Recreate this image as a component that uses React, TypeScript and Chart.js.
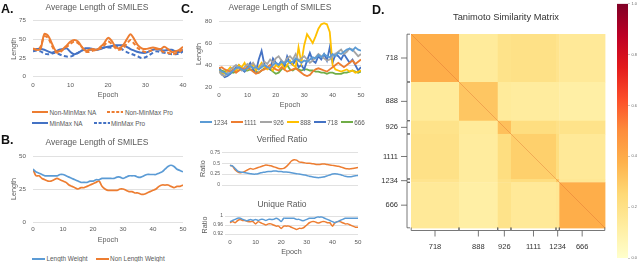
import React, { useEffect, useRef } from 'react';
import { Chart, registerables } from 'chart.js';

Chart.register(...registerables);

const FONT = "'Liberation Sans', Arial, Helvetica, sans-serif";
const TXT = '#595959';
const GRID = '#d9d9d9';

// ---------------- Panel A ----------------
const epochsA = Array.from({ length: 41 }, (_, i) => i);
const aNames = ['Non-MinMax NA', 'Non-MinMax Pro', 'MinMax NA', 'MinMax Pro'];
const aNonMinMaxNA = [38, 36, 37, 57, 55, 45, 35, 34, 37, 42, 47, 49, 47, 40, 35, 36, 37, 36, 40, 45, 52, 48, 40, 38, 42, 50, 57, 50, 42, 38, 37, 38, 39, 38, 37, 40, 37, 33, 34, 36, 40];
const aNonMinMaxPro = [37, 36, 40, 54, 52, 42, 33, 32, 36, 40, 44, 47, 45, 40, 34, 33, 35, 36, 38, 42, 47, 44, 38, 36, 38, 44, 49, 44, 38, 35, 33, 34, 36, 37, 35, 33, 32, 30, 31, 33, 37];
const aMinMaxNA = [36, 37, 37, 36, 34, 32, 34, 36, 37, 38, 33, 30, 32, 35, 38, 38, 37, 36, 37, 39, 40, 41, 42, 42, 42, 40, 37, 35, 33, 32, 32, 34, 36, 37, 36, 35, 36, 36, 34, 33, 36];
const aMinMaxPro = [34, 35, 34, 31, 30, 31, 32, 30, 28, 27, 27, 29, 32, 35, 36, 36, 36, 36, 38, 39, 39, 39, 40, 39, 36, 33, 31, 29, 27, 25, 26, 29, 32, 34, 33, 32, 31, 30, 30, 31, 34];
const aXTicks = [0, 10, 20, 30, 40];
const aYTicks = [0, 25, 50, 75];

// ---------------- Panel B ----------------
const epochs50 = Array.from({ length: 51 }, (_, i) => i);
const bNames = ['Length Weight', 'Non Length Weight'];
const bLengthWeight = [40, 38, 37, 36, 35, 35, 35, 35, 35, 36, 36, 35, 34, 33, 32, 31, 30, 30, 30, 31, 31, 32, 32, 33, 33, 33, 33, 33, 34, 34, 33, 34, 35, 35, 35, 34, 34, 35, 36, 36, 36, 36, 37, 38, 40, 42, 43, 42, 40, 39, 38];
const bNonLengthWeight = [40, 35, 35, 33, 32, 31, 31, 32, 33, 32, 31, 30, 28, 27, 26, 25, 26, 26, 27, 28, 29, 30, 31, 27, 25, 24, 24, 24, 24, 25, 25, 24, 23, 23, 22, 22, 21, 21, 22, 23, 24, 25, 27, 28, 28, 28, 27, 26, 27, 27, 28];
const x50Ticks = [0, 10, 20, 30, 40, 50];
const bYTicks = [0, 25, 50];

// ---------------- Panel C ----------------
const cNames = ['1234', '1111', '926', '888', '718', '666'];
const c1234 = [36, 34, 33, 31, 33, 35, 37, 38, 36, 35, 37, 39, 37, 38, 36, 38, 40, 38, 37, 40, 42, 40, 43, 41, 44, 42, 43, 46, 44, 42, 44, 43, 45, 47, 46, 49, 47, 50, 48, 47, 50, 48, 51, 50, 52, 54, 55, 53, 56, 54, 53];
const c1111 = [37, 38, 36, 35, 34, 36, 33, 35, 37, 36, 38, 36, 34, 32, 33, 35, 36, 38, 40, 38, 36, 35, 38, 36, 34, 35, 36, 37, 35, 33, 31, 30, 31, 34, 36, 37, 36, 35, 34, 36, 38, 40, 42, 40, 38, 40, 42, 44, 41, 43, 45];
const c926 = [34, 31, 30, 33, 36, 38, 40, 37, 35, 38, 41, 39, 42, 38, 36, 40, 43, 41, 45, 42, 46, 48, 44, 42, 46, 48, 45, 50, 44, 46, 48, 45, 42, 44, 47, 50, 48, 46, 44, 45, 48, 50, 52, 54, 50, 52, 55, 54, 51, 48, 50];
const c888 = [35, 33, 32, 35, 38, 36, 34, 40, 38, 42, 36, 38, 41, 35, 38, 42, 38, 36, 38, 35, 40, 38, 42, 36, 40, 44, 40, 38, 56, 42, 58, 68, 64, 60, 66, 73, 77, 78, 77, 70, 40, 36, 35, 34, 35, 36, 34, 35, 33, 34, 35];
const c718 = [38, 32, 29, 30, 32, 35, 38, 40, 36, 34, 38, 42, 36, 34, 45, 53, 40, 38, 36, 46, 42, 40, 44, 38, 48, 42, 40, 45, 38, 40, 36, 44, 51, 44, 42, 48, 45, 50, 44, 56, 42, 50, 48, 45, 50, 46, 42, 45, 40, 35, 38];
const c666 = [36, 35, 34, 35, 34, 33, 34, 35, 37, 35, 35, 36, 35, 34, 33, 35, 37, 38, 36, 34, 32, 33, 36, 38, 40, 36, 35, 37, 36, 35, 36, 36, 35, 35, 34, 34, 33, 33, 32, 33, 33, 32, 32, 32, 33, 33, 34, 35, 34, 33, 34];
const cColors = ['#5B9BD5', '#ED7D31', '#A5A5A5', '#FFC000', '#4472C4', '#70AD47'];
const cYTicks = [20, 40, 60, 80];

const verifiedLW = [0.45, 0.44, 0.38, 0.32, 0.30, 0.29, 0.28, 0.27, 0.26, 0.25, 0.25, 0.26, 0.28, 0.29, 0.30, 0.31, 0.31, 0.32, 0.32, 0.31, 0.31, 0.30, 0.30, 0.29, 0.28, 0.27, 0.26, 0.25, 0.24, 0.23, 0.22, 0.20, 0.19, 0.18, 0.17, 0.17, 0.18, 0.19, 0.21, 0.23, 0.25, 0.26, 0.25, 0.24, 0.22, 0.20, 0.19, 0.19, 0.20, 0.21, 0.22];
const verifiedNLW = [0.45, 0.43, 0.35, 0.30, 0.28, 0.29, 0.32, 0.35, 0.38, 0.36, 0.38, 0.40, 0.42, 0.44, 0.46, 0.45, 0.44, 0.42, 0.40, 0.38, 0.37, 0.38, 0.42, 0.48, 0.55, 0.58, 0.57, 0.53, 0.52, 0.51, 0.50, 0.50, 0.49, 0.48, 0.47, 0.47, 0.48, 0.48, 0.47, 0.46, 0.45, 0.44, 0.43, 0.42, 0.40, 0.38, 0.37, 0.37, 0.38, 0.39, 0.40];
const verifiedYTicks = [0, 0.25, 0.5, 0.75];
const uniqueLW = [0.975, 0.98, 0.985, 0.99, 0.99, 0.985, 0.98, 0.98, 0.985, 0.98, 0.985, 0.98, 0.985, 0.985, 0.98, 0.985, 0.985, 0.985, 0.99, 0.985, 0.975, 0.99, 0.99, 0.99, 0.99, 0.99, 0.985, 0.985, 0.98, 0.98, 0.985, 0.99, 0.99, 0.99, 0.995, 0.995, 0.995, 0.99, 0.985, 0.98, 0.975, 0.97, 0.975, 0.98, 0.985, 0.99, 0.99, 0.99, 0.99, 0.99, 0.99];
const uniqueNLW = [0.97, 0.975, 0.97, 0.98, 0.985, 0.98, 0.98, 0.975, 0.975, 0.975, 0.965, 0.975, 0.97, 0.965, 0.96, 0.965, 0.965, 0.96, 0.955, 0.955, 0.945, 0.955, 0.955, 0.955, 0.95, 0.945, 0.94, 0.945, 0.945, 0.95, 0.96, 0.97, 0.975, 0.975, 0.97, 0.97, 0.975, 0.975, 0.97, 0.97, 0.955, 0.97, 0.975, 0.975, 0.97, 0.965, 0.965, 0.96, 0.955, 0.95, 0.95];
const uniqueYTicks = [0.92, 0.96, 1];

// ---------------- Panel D ----------------
const dGroups = ['718', '888', '926', '1111', '1234', '666'];
const dGroupSizes = [145, 117, 40, 136, 10, 138];
const dSim = [
  [0.39, 0.14, 0.19, 0.2, 0.18, 0.15],
  [0.14, 0.31, 0.14, 0.13, 0.13, 0.11],
  [0.19, 0.14, 0.33, 0.22, 0.2, 0.19],
  [0.2, 0.13, 0.22, 0.28, 0.22, 0.15],
  [0.18, 0.13, 0.2, 0.22, 0.3, 0.16],
  [0.15, 0.11, 0.19, 0.15, 0.16, 0.39],
];
const cbTicks = [0, 0.2, 0.4, 0.6, 0.8, 1];
const YLORRD = ['#ffffcc', '#ffeda0', '#fed976', '#feb24c', '#fd8d3c', '#fc4e2a', '#e31a1c', '#bd0026', '#800026'];

// ---------------- helpers ----------------
const pts = (xs: number[], ys: number[]) => xs.map((x, i) => ({ x, y: ys[i] }));
const lineDs = (label: string, xs: number[], ys: number[], color: string, extra: any = {}) => ({
  label, data: pts(xs, ys), borderColor: color, backgroundColor: color,
  borderWidth: 1.5, pointRadius: 0, tension: 0.3, ...extra,
});

function hexRgb(h: string) {
  return [parseInt(h.slice(1, 3), 16), parseInt(h.slice(3, 5), 16), parseInt(h.slice(5, 7), 16)];
}
function cmap(v: number) {
  const n = YLORRD.length;
  const t = Math.max(0, Math.min(1, v)) * (n - 1);
  const i = Math.min(Math.floor(t), n - 2);
  const f = t - i;
  const a = hexRgb(YLORRD[i]);
  const b = hexRgb(YLORRD[i + 1]);
  const c = a.map((av, k) => Math.round(av + (b[k] - av) * f));
  return `rgb(${c[0]},${c[1]},${c[2]})`;
}

type LineOpts = {
  cx: number; cy: number; cw: number; ch: number;
  l: number; t: number; r: number; b: number;
  title?: string; titleY?: number; titleSize?: number;
  yTitle: string; yTitleX: number; yTickRight: number; yTickSize?: number;
  xTitle?: string; xTitleY?: number; xTickY?: number;
  xMin: number; xMax: number; xTicks: number[];
  yMin: number; yMax: number; yTicks: number[];
  datasets: any[];
};

function lineConfig(o: LineOpts): any {
  const TICK = 6.2;
  const AX = 7.2;
  const tSize = o.titleSize ?? 8.5;
  const tLh = tSize * 1.2;
  let padTop = 0;
  let title: any = { display: false };
  if (o.title) {
    const pt = (o.titleY as number) - o.cy - tLh / 2;
    const pb = o.t - o.cy - pt - tLh;
    title = {
      display: true, text: o.title, color: TXT,
      font: { family: FONT, size: tSize, weight: 'normal', lineHeight: 1.2 },
      padding: { top: pt, bottom: pb },
    };
  } else padTop = o.t - o.cy;
  const yTick = o.yTickSize ?? TICK;
  return {
    type: 'line',
    data: { datasets: o.datasets },
    options: {
      responsive: false, animation: false, events: [],
      layout: { padding: { left: 0, right: 0, top: padTop, bottom: 0 } },
      plugins: { legend: { display: false }, title, tooltip: { enabled: false } },
      scales: {
        x: {
          type: 'linear', min: o.xMin, max: o.xMax,
          afterBuildTicks: (s: any) => { s.ticks = o.xTicks.map((v) => ({ value: v })); },
          afterFit: (s: any) => { s.height = o.cy + o.ch - o.b; },
          ticks: o.xTickY != null
            ? { display: true, color: TXT, font: { family: FONT, size: TICK }, padding: o.xTickY - o.b - TICK * 0.6, maxRotation: 0, autoSkip: false }
            : { display: false },
          grid: { display: false, drawTicks: false },
          border: { display: false },
          title: o.xTitle
            ? { display: true, text: o.xTitle, color: TXT, font: { family: FONT, size: AX }, padding: { top: 0, bottom: o.cy + o.ch - (o.xTitleY as number) - AX * 0.6 } }
            : { display: false },
        },
        y: {
          type: 'linear', min: o.yMin, max: o.yMax,
          afterBuildTicks: (s: any) => { s.ticks = o.yTicks.map((v) => ({ value: v })); },
          afterFit: (s: any) => { s.width = o.l - o.cx; },
          ticks: {
            color: TXT, font: { family: FONT, size: yTick }, padding: o.l - o.yTickRight,
            callback: (v: any) => String(+Number(v).toFixed(3)),
          },
          grid: { color: GRID, lineWidth: 0.8, drawTicks: false },
          border: { display: false },
          title: {
            display: true, text: o.yTitle, color: TXT, font: { family: FONT, size: AX },
            padding: { top: o.yTitleX - o.cx - AX * 0.6, bottom: 0 },
          },
        },
        yR: {
          type: 'linear', position: 'right', display: true,
          ticks: { display: false }, grid: { display: false, drawTicks: false }, border: { display: false },
          afterFit: (s: any) => { s.width = o.cx + o.cw - o.r; },
        },
      },
    },
  };
}

// ---------------- chart configs ----------------
const configA = () => lineConfig({
  cx: 0, cy: 0, cw: 194, ch: 102, l: 33, t: 20.7, r: 183, b: 76.7,
  title: 'Average Length of SMILES', titleY: 8,
  yTitle: 'Length', yTitleX: 14.5, yTickRight: 26,
  xTitle: 'Epoch', xTitleY: 95, xTickY: 85.5,
  xMin: 0, xMax: 40, xTicks: aXTicks, yMin: 0, yMax: 75, yTicks: aYTicks,
  datasets: [
    lineDs(aNames[0], epochsA, aNonMinMaxNA, '#ED7D31', { borderWidth: 2 }),
    lineDs(aNames[1], epochsA, aNonMinMaxPro, '#ED7D31', { borderWidth: 2, borderDash: [4, 2.5] }),
    lineDs(aNames[2], epochsA, aMinMaxNA, '#4472C4', { borderWidth: 2 }),
    lineDs(aNames[3], epochsA, aMinMaxPro, '#4472C4', { borderWidth: 2, borderDash: [4, 2.5] }),
  ],
});

const configB = () => lineConfig({
  cx: 0, cy: 130, cw: 194, ch: 116, l: 33, t: 156, r: 183, b: 222,
  title: 'Average Length of SMILES', titleY: 143,
  yTitle: 'Length', yTitleX: 14.5, yTickRight: 26,
  xTitle: 'Epoch', xTitleY: 240, xTickY: 229.5,
  xMin: 0, xMax: 50, xTicks: x50Ticks, yMin: 0, yMax: 50, yTicks: bYTicks,
  datasets: [
    lineDs(bNames[0], epochs50, bLengthWeight, '#5B9BD5', { borderWidth: 1.7 }),
    lineDs(bNames[1], epochs50, bNonLengthWeight, '#ED7D31', { borderWidth: 1.7 }),
  ],
});

const cSeries = [c1234, c1111, c926, c888, c718, c666];
const configC = () => lineConfig({
  cx: 190, cy: 0, cw: 180, ch: 112, l: 219, t: 21, r: 361, b: 87,
  title: 'Average Length of SMILES', titleY: 8,
  yTitle: 'Length', yTitleX: 199, yTickRight: 212,
  xTitle: 'Epoch', xTitleY: 105, xTickY: 95,
  xMin: 0, xMax: 50, xTicks: x50Ticks, yMin: 20, yMax: 80, yTicks: cYTicks,
  datasets: cSeries.map((s, i) => lineDs(cNames[i], epochs50, s, cColors[i], { borderWidth: 1.8, tension: 0 })),
});

const configV = () => lineConfig({
  cx: 198, cy: 130, cw: 168, ch: 60, l: 222, t: 152.3, r: 358, b: 185.7,
  title: 'Verified Ratio', titleY: 140,
  yTitle: 'Ratio', yTitleX: 203, yTickRight: 220, yTickSize: 5,
  xMin: -3.1, xMax: 50, xTicks: x50Ticks, yMin: 0, yMax: 0.75, yTicks: verifiedYTicks,
  datasets: [
    lineDs(bNames[0], epochs50, verifiedLW, '#5B9BD5', { borderWidth: 1.5, tension: 0.2 }),
    lineDs(bNames[1], epochs50, verifiedNLW, '#ED7D31', { borderWidth: 1.5, tension: 0.2 }),
  ],
});

const configU = () => lineConfig({
  cx: 198, cy: 192, cw: 168, ch: 70, l: 225, t: 216, r: 358, b: 234,
  title: 'Unique Ratio', titleY: 205,
  yTitle: 'Ratio', yTitleX: 205, yTickRight: 223, yTickSize: 5,
  xTitle: 'Epoch', xTitleY: 252, xTickY: 242,
  xMin: -1.95, xMax: 50, xTicks: x50Ticks, yMin: 0.92, yMax: 1, yTicks: uniqueYTicks,
  datasets: [
    lineDs(bNames[0], epochs50, uniqueLW, '#5B9BD5', { borderWidth: 1.5, tension: 0.2 }),
    lineDs(bNames[1], epochs50, uniqueNLW, '#ED7D31', { borderWidth: 1.5, tension: 0.2 }),
  ],
});

const dTotal = dGroupSizes.reduce((a, b) => a + b, 0);
const dStarts = dGroupSizes.map((_, i) => dGroupSizes.slice(0, i).reduce((a, b) => a + b, 0));
const dCenters = dStarts.map((s, i) => s + dGroupSizes[i] / 2);

const heatPlugin = {
  id: 'heatcells',
  beforeDatasetsDraw(chart: any) {
    const { ctx } = chart;
    const xs = chart.scales.x;
    const ys = chart.scales.y;
    ctx.save();
    for (let i = 0; i < dGroups.length; i++) {
      for (let j = 0; j < dGroups.length; j++) {
        const x0 = xs.getPixelForValue(dStarts[j]);
        const x1 = xs.getPixelForValue(dStarts[j] + dGroupSizes[j]);
        const y0 = ys.getPixelForValue(dStarts[i]);
        const y1 = ys.getPixelForValue(dStarts[i] + dGroupSizes[i]);
        ctx.fillStyle = cmap(dSim[i][j]);
        ctx.fillRect(Math.min(x0, x1), Math.min(y0, y1), Math.abs(x1 - x0) + 0.4, Math.abs(y1 - y0) + 0.4);
      }
    }
    ctx.restore();
  },
  afterDraw(chart: any) {
    const { ctx, chartArea } = chart;
    const xs = chart.scales.x;
    const ys = chart.scales.y;
    ctx.save();
    ctx.strokeStyle = '#555';
    ctx.lineWidth = 0.8;
    ctx.beginPath();
    const bx = chartArea.left - 4;
    const by = chartArea.bottom + 2.5;
    for (let i = 0; i < dGroups.length; i++) {
      const a = dStarts[i] + 0.6;
      const b = dStarts[i] + dGroupSizes[i] - 0.6;
      const c = dCenters[i];
      const ya = ys.getPixelForValue(a);
      const yb = ys.getPixelForValue(b);
      const yc = ys.getPixelForValue(c);
      ctx.moveTo(bx + 3, ya); ctx.lineTo(bx, ya); ctx.lineTo(bx, yb); ctx.lineTo(bx + 3, yb);
      ctx.moveTo(bx - 6, yc); ctx.lineTo(bx, yc);
      const xa = xs.getPixelForValue(a);
      const xb = xs.getPixelForValue(b);
      const xc = xs.getPixelForValue(c);
      ctx.moveTo(xa, by - 3); ctx.lineTo(xa, by); ctx.lineTo(xb, by); ctx.lineTo(xb, by - 3);
      ctx.moveTo(xc, by); ctx.lineTo(xc, by + 6);
    }
    ctx.stroke();
    ctx.restore();
  },
};

const configD = () => ({
  type: 'scatter',
  data: {
    datasets: [{
      label: 'diagonal', data: [{ x: 0, y: 0 }, { x: dTotal, y: dTotal }], showLine: true,
      borderColor: 'rgba(214,96,40,0.55)', borderWidth: 0.6, pointRadius: 0,
    }],
  },
  options: {
    responsive: false, animation: false, events: [],
    layout: { padding: 0 },
    plugins: {
      legend: { display: false }, tooltip: { enabled: false },
      title: {
        display: true, text: 'Tanimoto Similarity Matrix', color: '#333',
        font: { family: FONT, size: 9.3, weight: 'normal', lineHeight: 1.2 },
        padding: { top: 11.4, bottom: 11.44 },
      },
    },
    scales: {
      x: {
        type: 'linear', min: 0, max: dTotal,
        afterBuildTicks: (s: any) => { s.ticks = dCenters.map((v) => ({ value: v })); },
        afterFit: (s: any) => { s.height = 262 - 228; },
        ticks: { autoSkip: false, maxRotation: 0, color: '#333', font: { family: FONT, size: 7.5 }, padding: 14.5, callback: (_v: any, i: number) => dGroups[i] },
        grid: { display: false, drawTicks: false }, border: { display: false },
      },
      y: {
        type: 'linear', min: 0, max: dTotal, reverse: true,
        afterBuildTicks: (s: any) => { s.ticks = dCenters.map((v) => ({ value: v })); },
        afterFit: (s: any) => { s.width = 411 - 368; },
        ticks: { autoSkip: false, color: '#333', font: { family: FONT, size: 7.5 }, padding: 13, callback: (_v: any, i: number) => dGroups[i] },
        grid: { display: false, drawTicks: false }, border: { display: false },
      },
      yR: {
        type: 'linear', position: 'right', display: true,
        ticks: { display: false }, grid: { display: false, drawTicks: false }, border: { display: false },
        afterFit: (s: any) => { s.width = 644 - 605; },
      },
    },
  },
  plugins: [heatPlugin],
});

const configCB = () => ({
  type: 'bar',
  data: {
    labels: [''],
    datasets: [{
      data: [[0, 1]], barPercentage: 1, categoryPercentage: 1, borderWidth: 0,
      backgroundColor: (c: any) => {
        const chart = c.chart;
        if (!chart.chartArea) return '#fed976';
        const ys = chart.scales.y;
        const g = chart.ctx.createLinearGradient(0, ys.getPixelForValue(0), 0, ys.getPixelForValue(1));
        YLORRD.forEach((col, k) => g.addColorStop(k / (YLORRD.length - 1), col));
        return g;
      },
    }],
  },
  options: {
    responsive: false, animation: false, events: [],
    layout: { padding: { left: 9, top: 3, bottom: 4, right: 0 } },
    plugins: { legend: { display: false }, tooltip: { enabled: false }, title: { display: false } },
    scales: {
      x: { display: false },
      y: {
        position: 'right', min: 0, max: 1,
        afterBuildTicks: (s: any) => { s.ticks = cbTicks.map((v) => ({ value: v })); },
        afterFit: (s: any) => { s.width = 12; },
        ticks: { color: '#666', font: { family: FONT, size: 3.8 }, padding: 1.5, callback: (v: any) => Number(v).toFixed(1) },
        grid: { display: true, drawOnChartArea: false, drawTicks: true, tickLength: 2, color: '#999', lineWidth: 0.5 },
        border: { display: false },
      },
    },
  },
});

// ---------------- components ----------------
function ChartCanvas({ x, y, w, h, make }: { x: number; y: number; w: number; h: number; make: () => any }) {
  const ref = useRef<HTMLCanvasElement>(null);
  useEffect(() => {
    const chart = new Chart(ref.current as HTMLCanvasElement, make());
    return () => chart.destroy();
  }, []);
  return (
    <canvas ref={ref} width={w} height={h}
      style={{ position: 'absolute', left: x, top: y, width: w, height: h }} />
  );
}

type LegItem = { label: string; color: string; dash?: boolean };
function Legend({ left, cy, items, size, lineW, gap }: { left: number; cy: number; items: LegItem[]; size: number; lineW: number; gap: number }) {
  return (
    <div style={{
      position: 'absolute', left, top: cy - 6, height: 12, display: 'flex', alignItems: 'center',
      whiteSpace: 'nowrap', fontFamily: FONT, fontSize: size, color: TXT, columnGap: gap,
    }}>
      {items.map((it) => (
        <span key={it.label} style={{ display: 'flex', alignItems: 'center' }}>
          <svg width={lineW} height={4} style={{ display: 'block' }}>
            <line x1={0} y1={2} x2={lineW} y2={2} stroke={it.color} strokeWidth={2}
              strokeDasharray={it.dash ? '3 1.6' : undefined} />
          </svg>
          <span style={{ marginLeft: 1.5 }}>{it.label}</span>
        </span>
      ))}
    </div>
  );
}

function Letter({ text, x, y }: { text: string; x: number; y: number }) {
  return (
    <div style={{
      position: 'absolute', left: x, top: y, fontFamily: FONT, fontWeight: 'bold',
      fontSize: 12.5, lineHeight: '12.5px', color: '#111',
    }}>{text}</div>
  );
}

export default function App() {
  return (
    <div style={{ position: 'fixed', left: 0, top: 0, width: 640, height: 262, overflow: 'hidden', background: '#fff' }}>
      <div style={{ position: 'absolute', left: 0, top: 0, width: 365, height: 262, overflow: 'hidden' }}>
        <ChartCanvas x={0} y={0} w={194} h={102} make={configA} />
        <ChartCanvas x={0} y={130} w={194} h={116} make={configB} />
        <ChartCanvas x={190} y={0} w={180} h={112} make={configC} />
        <ChartCanvas x={198} y={130} w={168} h={60} make={configV} />
        <ChartCanvas x={198} y={192} w={168} h={70} make={configU} />
        <Legend left={32} cy={112} size={6.4} lineW={16} gap={11}
          items={[{ label: aNames[0], color: '#ED7D31' }, { label: aNames[1], color: '#ED7D31', dash: true }]} />
        <Legend left={32} cy={123} size={6.4} lineW={16} gap={11}
          items={[{ label: aNames[2], color: '#4472C4' }, { label: aNames[3], color: '#4472C4', dash: true }]} />
        <Legend left={32} cy={258.5} size={6.4} lineW={13} gap={8}
          items={[{ label: bNames[0], color: '#5B9BD5' }, { label: bNames[1], color: '#ED7D31' }]} />
        <Legend left={200} cy={122} size={6.3} lineW={12} gap={3}
          items={cNames.map((n, i) => ({ label: n, color: cColors[i] }))} />
        <Letter text="A." x={1} y={3} />
        <Letter text="B." x={1} y={133.5} />
        <Letter text="C." x={181} y={3} />
      </div>
      <ChartCanvas x={368} y={0} w={276} h={262} make={configD} />
      <ChartCanvas x={608} y={0} w={32} h={262} make={configCB} />
      <Letter text="D." x={372} y={3.5} />
    </div>
  );
}
